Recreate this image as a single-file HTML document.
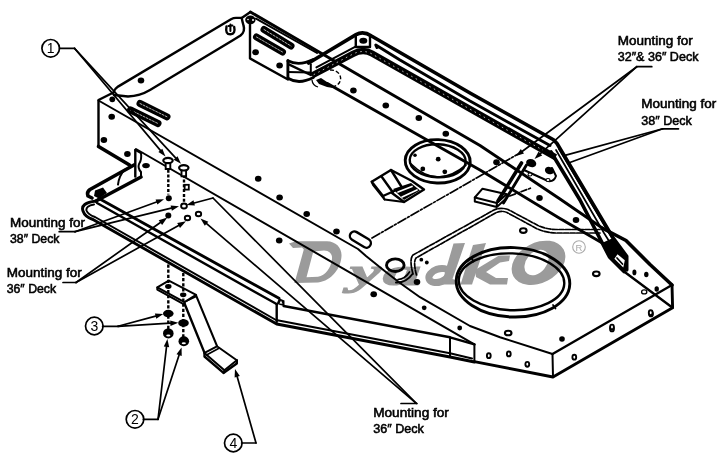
<!DOCTYPE html>
<html>
<head>
<meta charset="utf-8">
<title>Deck mounting diagram</title>
<style>
html,body{margin:0;padding:0;background:#fff;}
body{width:726px;height:468px;overflow:hidden;font-family:"Liberation Sans",sans-serif;}
svg{display:block;filter:grayscale(1) blur(0.3px);}
.k4{stroke:#000;stroke-width:3.6;fill:none;stroke-linecap:round;stroke-linejoin:round;}
.k3{stroke:#000;stroke-width:2.9;fill:none;stroke-linecap:round;stroke-linejoin:round;}
.k2{stroke:#000;stroke-width:2.4;fill:none;stroke-linecap:round;stroke-linejoin:round;}
.k15{stroke:#000;stroke-width:2.0;fill:none;stroke-linecap:round;stroke-linejoin:round;}
.k1{stroke:#000;stroke-width:1.7;fill:none;stroke-linecap:round;stroke-linejoin:round;}
.w{fill:#fff;}
.d{fill:#000;stroke:none;}
.lbl{font-family:"Liberation Sans",sans-serif;font-size:12.6px;fill:#000;stroke:#000;stroke-width:0.55;}
.num{font-family:"Liberation Sans",sans-serif;font-size:14px;fill:#000;text-anchor:middle;}
.wm{font-family:"Liberation Serif",serif;font-weight:bold;font-style:italic;fill:#9b9b9b;}
</style>
</head>
<body>
<svg width="726" height="468" viewBox="0 0 726 468">
<rect x="0" y="0" width="726" height="468" fill="#fff"/>
<g id="wm">
<path fill-rule="evenodd" fill="#9b9b9b" d="M289,243.4 L296,241.3 L327,241.3 C336,241.5 342,248 341.5,256 C341,268 332,280.5 318,282.6 L294.3,283 L295.5,279.5 L303.8,249.5 L302,247.4 L293,248 Z M313.3,251.5 L324,250.5 C330,250.8 332.5,254.5 332,259 C331,268 325.5,275.5 318,276.8 L306.5,277.3 Z"/>
<text class="wm" x="350" y="285" font-size="38" textLength="31" lengthAdjust="spacingAndGlyphs" stroke="#9b9b9b" stroke-width="1.2">y</text>
<text class="wm" x="383" y="285" font-size="38" textLength="38" lengthAdjust="spacingAndGlyphs" stroke="#9b9b9b" stroke-width="1.2">a</text>
<ellipse cx="439" cy="275.5" rx="10.5" ry="6.5" fill="none" stroke="#9b9b9b" stroke-width="7" transform="rotate(-20 439 275.5)"/>
<path d="M453.5,243.5 L465,243 L452.5,279 L457,280.5 L456,284.5 L441.5,284.5 Z" fill="#9b9b9b"/>
<path d="M473,245 L486,243 L472,284.5 L460.5,284.5 Z" fill="#9b9b9b"/>
<path d="M475,270 L499,255.5 L510,255.5 L509,261 L500,262.5 L486,272 L496,278 L508,278 L507,284.5 L490,284.5 L476,277 Z" fill="#9b9b9b"/>
<ellipse cx="538.5" cy="262.8" rx="28.5" ry="20" fill="#9b9b9b" transform="rotate(-28 538.5 262.8)"/>
<ellipse cx="536.5" cy="262.5" rx="14.5" ry="10" fill="#fff" transform="rotate(-50 536.5 262.5)"/>
<circle cx="579" cy="247" r="6.3" fill="none" stroke="#aaa" stroke-width="1.1"/>
<text x="579" y="250.6" font-size="9.5" text-anchor="middle" fill="#aaa" font-family="Liberation Sans, sans-serif">R</text>
</g>
<g id="deck">
<path class="k2" d="M113.5,92.5 Q115,88.5 118,86.6 L231,19.2 Q233.5,17.9 236,17.9 L241.7,17.9 L250.4,12" />
<path class="k2" d="M241.7,17.9 Q242.3,21 243.5,25.5 Q245.5,31.5 240.5,35.5 L232,40.8 L150,90 Q140,96 128,96.5 L114,95" />
<ellipse cx="250.4" cy="19.8" rx="5.2" ry="4.4" fill="#000"/>
<circle cx="253" cy="20" r="1" fill="#fff"/>
<circle cx="248" cy="19.5" r="0.8" fill="#fff"/>
<path class="k2" d="M226.5,26.5 Q225,34.5 230.5,34.3 Q235.7,33.7 234.2,27" />
<path class="k15" d="M230.4,24.5 L230.4,31 M228.5,26 L232.5,25.5" />
<path class="k2" d="M98.5,146.5 L98.5,100 L113.5,92.5" />
<path class="k4" d="M98.5,146.5 L129.5,165" />
<path class="k15" d="M98.5,100.5 L358,249 L366,256 L384,270.5 L400,283 L420,297.2 L470,326 L500,337.2 L552.5,354" />
<path class="k15" d="M136,149 L474.4,344.4" />
<path class="k2" d="M135.3,150 L135.3,176.5" />
<path class="k15" d="M135.3,150 L141,153.2 Q142,160 139,164 Q137.5,168 141,172 L141,176.5" />
<path class="k3" d="M250.4,12 L380,87.4 L480,145.5 L560,199 L603,228.5" />
<path class="k4" d="M603,228.5 L626,240.5 L650,264.5 L672,285" />
<path class="k3" d="M327.4,83.5 L480,170 L560,218.5 L610,247.5" />
<path class="k2" d="M250,23 L250,58.4 L288,79.5" />
<path class="k15" d="M256,18.6 L317,53" />
<path class="k2" d="M552.5,354 L672,285" />
<path class="k3" d="M672,285 L672.6,307.8 L553,377 L474.4,361.6" />
<path class="k15" d="M552.5,354 L553,377" />
<path class="k15" d="M474.4,344.4 L474.4,361.6" />
</g>
<g id="slots">
<path class="k2" d="M264.0,29.5 L291.0,46.0" style="stroke-width:7.0"/>
<path class="k2" d="M264.0,29.5 L291.0,46.0" style="stroke:#fff;stroke-width:0.7;stroke-dasharray:2 1.5"/>
<path class="k2" d="M256.5,37.0 L282.5,52.0" style="stroke-width:7.0"/>
<path class="k2" d="M256.5,37.0 L282.5,52.0" style="stroke:#fff;stroke-width:0.7;stroke-dasharray:2 1.5"/>
<path class="k2" d="M140.0,103.5 L167.0,116.8" style="stroke-width:7.0"/>
<path class="k2" d="M140.0,103.5 L167.0,116.8" style="stroke:#fff;stroke-width:0.7;stroke-dasharray:2 1.5"/>
<path class="k2" d="M130.5,110.0 L158.0,123.5" style="stroke-width:7.0"/>
<path class="k2" d="M130.5,110.0 L158.0,123.5" style="stroke:#fff;stroke-width:0.7;stroke-dasharray:2 1.5"/>
</g>
<g id="tube">
<path class="k3" d="M287.9,60.8 L287.9,78.3" />
<path class="k3" d="M287.9,60.8 Q299,66.5 313.3,59.5" />
<path class="k3" d="M287.9,78.3 Q299,85 313.3,77.5" />
<path class="k15" d="M310.8,64.2 L310.8,75" />
<path class="k15" d="M287.9,72 L310,72.5" />
<path class="k2" d="M288.3,64.2 L310.8,75" />
<polygon points="316,80 321,78 330,84 333,88 327,87 319,84" fill="#000"/>
<path d="M330,70 A9,8 0 0 1 332,87" fill="none" stroke="#000" stroke-width="1.4" stroke-dasharray="4 2"/>
<path d="M312,80 A9,8 0 0 0 318,87" fill="none" stroke="#000" stroke-width="1.3"/>
<path class="k4" d="M308.7,63 L356,34.6 Q363.3,30.5 371.5,36 L470,93 L553.5,139.8 L557,143.5 L612.5,237 L626.7,256.2 L626.7,270" />
<path class="k15" d="M316.4,67.4 L356,46.4" />
<path class="k4" d="M551,152 L580,200 L609.5,257 L624,271.5" />
<path class="k2" d="M355.8,35.8 L355.8,47 L370,47 L370,36" />
<ellipse class="d" cx="363.3" cy="40.8" rx="4" ry="3" transform="rotate(0 363.3 40.8)"/>
<path class="k3" d="M377,47.5 L375.8,45 L400,60 L470,101 L550,145.5" />
<path class="k2" d="M312,75.5 L353,53.8 Q363.3,48.5 372,53.5 L555.5,157.2" style="stroke-width:6.4;stroke-linecap:butt"/>
<path class="k2" d="M314,74.5 L353,54 Q363.3,49 372,54 L547,152.5" style="stroke:#fff;stroke-width:0.7;stroke-dasharray:0.8 4.4"/>
<path class="k1" d="M556,150 L604,233 L614,249" />
<path class="k1" d="M559,149 L609,233 L618,247" />
<polygon points="602,243 613,238 626.7,256.2 626.7,270 624,271.5 609.5,257" fill="#000"/>
<polygon points="614.4,258.7 617.5,254.3 624.8,260.3 623.3,267.5" fill="#fff"/>
<path class="k1" d="M617,258 L622.5,264" />
</g>
<g id="rings">
<ellipse class="k3" cx="513.0" cy="282.3" rx="56.8" ry="34.7" transform="rotate(2 513.0 282.3)" />
<ellipse class="k2" cx="511.5" cy="281.8" rx="52.8" ry="28.4" transform="rotate(2 511.5 281.8)" />
<path class="k1" d="M471.5,258.0 L473.5,261.5" />
<path class="k1" d="M553.0,305.0 L555.5,308.5" />
<ellipse class="k3" cx="437.7" cy="161.3" rx="32.5" ry="21.7" transform="rotate(2 437.7 161.3)" />
<ellipse class="k2" cx="437.7" cy="160.8" rx="28" ry="16.5" transform="rotate(2 437.7 160.8)" />
<path class="k1" d="M410,163 Q437,190 466,165" />
<circle class="d" cx="438.2" cy="159.2" r="2.4"/>
<circle class="d" cx="422.8" cy="168.9" r="2.4"/>
<circle class="d" cx="444.8" cy="171.8" r="2.4"/>
<circle class="d" cx="415.0" cy="155.3" r="1.8"/>
</g>
<g id="dots">
<ellipse class="d" cx="255.6" cy="52.2" rx="3.3" ry="3.0" transform="rotate(0 255.6 52.2)"/>
<ellipse class="d" cx="279.6" cy="65.5" rx="3.3" ry="3.0" transform="rotate(0 279.6 65.5)"/>
<ellipse class="d" cx="353.4" cy="90.5" rx="3.3" ry="3.0" transform="rotate(0 353.4 90.5)"/>
<ellipse class="d" cx="385.8" cy="105.6" rx="3.3" ry="3.0" transform="rotate(0 385.8 105.6)"/>
<ellipse class="d" cx="418.8" cy="118.0" rx="3.3" ry="3.0" transform="rotate(0 418.8 118.0)"/>
<ellipse class="d" cx="445.8" cy="133.7" rx="3.3" ry="3.0" transform="rotate(0 445.8 133.7)"/>
<ellipse class="d" cx="103.9" cy="140.0" rx="3.3" ry="3.0" transform="rotate(0 103.9 140.0)"/>
<ellipse class="d" cx="127.4" cy="154.0" rx="3.3" ry="3.0" transform="rotate(0 127.4 154.0)"/>
<ellipse class="d" cx="111.7" cy="116.7" rx="3.3" ry="3.0" transform="rotate(0 111.7 116.7)"/>
<ellipse class="d" cx="141.0" cy="80.5" rx="3.3" ry="3.0" transform="rotate(0 141.0 80.5)"/>
<ellipse class="d" cx="258.2" cy="178.7" rx="3.3" ry="3.0" transform="rotate(0 258.2 178.7)"/>
<ellipse class="d" cx="279.6" cy="197.4" rx="3.3" ry="3.0" transform="rotate(0 279.6 197.4)"/>
<ellipse class="d" cx="306.7" cy="213.9" rx="3.3" ry="3.0" transform="rotate(0 306.7 213.9)"/>
<ellipse class="d" cx="336.5" cy="231.5" rx="3.3" ry="3.0" transform="rotate(0 336.5 231.5)"/>
<ellipse class="d" cx="279.2" cy="240.4" rx="3.3" ry="3.0" transform="rotate(0 279.2 240.4)"/>
<ellipse class="d" cx="373.7" cy="294.3" rx="3.3" ry="3.0" transform="rotate(0 373.7 294.3)"/>
<ellipse class="d" cx="417.0" cy="282.0" rx="3.3" ry="3.0" transform="rotate(0 417.0 282.0)"/>
<ellipse class="d" cx="496.5" cy="162.3" rx="3.3" ry="3.0" transform="rotate(0 496.5 162.3)"/>
<ellipse class="d" cx="539.5" cy="197.9" rx="3.3" ry="3.0" transform="rotate(0 539.5 197.9)"/>
<ellipse class="d" cx="576.0" cy="220.0" rx="3.3" ry="3.0" transform="rotate(0 576.0 220.0)"/>
<ellipse class="d" cx="146.0" cy="165.6" rx="3.8" ry="2.7" transform="rotate(0 146.0 165.6)"/>
<circle class="d" cx="112.3" cy="99.3" r="2.9"/>
<circle class="d" cx="421.3" cy="259.7" r="1.9"/>
<circle class="d" cx="426.8" cy="262.5" r="1.9"/>
<ellipse class="d" cx="634.4" cy="272.4" rx="2" ry="2.8" transform="rotate(0 634.4 272.4)"/>
<ellipse class="d" cx="646.3" cy="274.5" rx="2.2" ry="2.8" transform="rotate(0 646.3 274.5)"/>
<ellipse class="d" cx="656.7" cy="289.0" rx="2.2" ry="2.8" transform="rotate(0 656.7 289.0)"/>
<ellipse cx="644.2" cy="291.9" rx="2.6" ry="2" fill="#fff" stroke="#000" stroke-width="1.3"/>
<circle class="d" cx="424.2" cy="307.8" r="2.4"/>
<circle class="d" cx="459.7" cy="328.0" r="2.4"/>
<circle class="d" cx="562.0" cy="339.0" r="2.8"/>
<ellipse cx="523.3" cy="230.6" rx="3.3" ry="2.3" fill="#fff" stroke="#000" stroke-width="2.1"/>
<ellipse cx="596.3" cy="273.8" rx="3.3" ry="2.3" fill="#fff" stroke="#000" stroke-width="2.1"/>
<ellipse cx="508.2" cy="333.0" rx="3.3" ry="2.3" fill="#fff" stroke="#000" stroke-width="2.1"/>
<ellipse cx="488.8" cy="355.7" rx="1.9" ry="2.4" fill="#fff" stroke="#000" stroke-width="1.9"/>
<ellipse cx="508.8" cy="353.9" rx="1.9" ry="2.4" fill="#fff" stroke="#000" stroke-width="1.9"/>
<ellipse cx="527.3" cy="364.3" rx="1.9" ry="2.4" fill="#fff" stroke="#000" stroke-width="1.9"/>
<ellipse cx="574.3" cy="357.2" rx="1.9" ry="2.4" fill="#fff" stroke="#000" stroke-width="1.9"/>
<ellipse cx="612.0" cy="329.0" rx="1.9" ry="2.4" fill="#fff" stroke="#000" stroke-width="1.9"/>
<ellipse cx="651.0" cy="314.0" rx="1.9" ry="2.4" fill="#fff" stroke="#000" stroke-width="1.9"/>
<ellipse cx="612.0" cy="327.0" rx="1.9" ry="2.4" fill="#fff" stroke="#000" stroke-width="1.9"/>
<ellipse cx="650.7" cy="312.7" rx="1.9" ry="2.4" fill="#fff" stroke="#000" stroke-width="1.9"/>
</g>
<g id="misc">
<rect x="349" y="235" width="23" height="9" rx="4.5" ry="4.5" fill="none" stroke="#000" stroke-width="2.4" transform="rotate(31 360.3 239.3)"/>
<ellipse class="k3" cx="395.3" cy="265.2" rx="8.8" ry="6.3" transform="rotate(0 395.3 265.2)" />
<path class="k15" d="M474.8,197.5 L482.5,188.7 L506.7,194.2 L496.8,203 Z" />
<path class="k15" d="M474.8,197.5 L474.8,201.5 L496.8,207 L496.8,203 M496.8,207 L506.7,198 L506.7,194.2" />
<path class="k1" d="M372,238 L519,153.5" stroke-dasharray="9 2 2 2"/>
<path class="k1" d="M509.8,196 L531,188" stroke-dasharray="6 2 2 2"/>
<path class="k1" d="M413,274 Q409,259 413,255 L494,210 Q500,207 508,209.5 L538,225.5 Q547,229.5 556,229.5 L600,229.5" stroke-dasharray="5 1.5"/>
<path class="k1" d="M416.5,275 Q413,262 416,258 L495.5,213 Q501,210 507,212.5 L537,228.8 Q547,233 556,233 L600,233" stroke-dasharray="5 1.5"/>
<path class="k15" d="M396,282.5 Q406,283 412.5,274" />
<path class="k1" d="M398,279.5 Q405,279 409.5,272" />
<path class="k4" d="M521.5,163 L498,201" />
<path class="k3" d="M526.5,165 L503.5,203" />
<ellipse class="d" cx="531.2" cy="163.1" rx="5.2" ry="4" transform="rotate(20 531.2 163.1)"/>
<ellipse class="d" cx="549.4" cy="170.6" rx="4.6" ry="3.6" transform="rotate(20 549.4 170.6)"/>
<path class="k15" d="M524,170 L548,181 Q554,182 556,176 L552,168" />
<ellipse cx="530.0" cy="174.5" rx="2" ry="1.5" fill="#fff" stroke="#000" stroke-width="1.1"/>
<ellipse cx="548.0" cy="180.0" rx="2" ry="1.5" fill="#fff" stroke="#000" stroke-width="1.1"/>
<path class="k2" d="M371.7,181.7 L391,170 L402,187.5 L383,196 Z" />
<path class="k15" d="M371.7,181.7 L373,185 L384.5,199.5 L383,196" />
<path class="k2" d="M381.7,176.7 L392.8,192.2" />
<path class="k2" d="M391,170 L412,181 L424,189.5 L404,202 L392,193" />
<polygon points="393,189 411,183 420,190.5 404,200" fill="#000"/>
<path class="k1" d="M398,192 L412,186.5 M402,197 L417,190" style="stroke:#fff"/>
<path class="k15" d="M384.5,199.5 L404,202" />
</g>
<g id="rightend">
<path class="k2" d="M624,271.5 L672.6,307.8" />
</g>
<g id="rods">
<path class="k4" d="M134,165 L90,189.5 Q86.5,192 88,196 L92,198" />
<path class="k4" d="M141,177 L96,201" />
<polygon points="95,190.5 103,187.5 107,193 99,198.5 94,196" fill="#000"/>
<path class="k15" d="M124.5,169.7 Q119,176 118,184.6" />
<path class="k3" d="M99,198.5 L279,298.3" />
<path class="k2" d="M97,203 L277,304.3" />
<path class="k3" d="M96,201 Q80,203 83,211 Q85,217 93,219.5 L276.7,324 L450,357 L474.4,362" />
<path class="k15" d="M94,204.5 Q85.5,206 86.5,210.5 Q88,214.5 95,217 L276,320 L450,353.3 L472,358.5" />
<path class="k2" d="M276.7,304.3 L276.7,322" />
<polygon points="276.7,303.5 279,298.3 284.5,300.5 284.5,306 280,305" fill="#000"/>
<polygon points="279.5,303.5 281,300.5 282.5,303.8" fill="#fff"/>
<path class="k2" d="M283.6,306 L450,337.3 L474.4,344.4" />
<path class="k15" d="M450,337.3 L450,356" />
</g>
<g id="bracket">
<path class="k2" d="M168.3,169.7 L168.3,194.5" stroke-dasharray="3 1.8" style="stroke-linecap:butt"/>
<path class="k2" d="M184,174.7 L184,202.8" stroke-dasharray="3 1.8" style="stroke-linecap:butt"/>
<path class="k2" d="M168.3,264.5 L168.3,330" stroke-dasharray="3.2 1.9" style="stroke-linecap:butt"/>
<path class="k2" d="M183.3,273 L183.3,337" stroke-dasharray="3.2 1.9" style="stroke-linecap:butt"/>
<path d="M165.7,160.5 L165.7,169.0 L170.3,169.0 L170.3,160.5" fill="#fff" stroke="#000" stroke-width="1.9"/>
<ellipse cx="168" cy="160.5" rx="4.7" ry="2.7" fill="#fff" stroke="#000" stroke-width="2.2"/>
<path d="M181.5,167.8 L181.5,176.3 L186.10000000000002,176.3 L186.10000000000002,167.8" fill="#fff" stroke="#000" stroke-width="1.9"/>
<ellipse cx="183.8" cy="167.8" rx="4.7" ry="2.7" fill="#fff" stroke="#000" stroke-width="2.2"/>
<circle class="d" cx="168.8" cy="198.3" r="3.0"/>
<ellipse cx="184.0" cy="206.0" rx="2.9" ry="2.5" fill="#fff" stroke="#000" stroke-width="1.9"/>
<circle class="d" cx="168.3" cy="215.5" r="3.0"/>
<ellipse cx="187.5" cy="218.0" rx="2.7" ry="2.3" fill="#fff" stroke="#000" stroke-width="1.9"/>
<ellipse cx="198.5" cy="214.0" rx="2.7" ry="2.3" fill="#fff" stroke="#000" stroke-width="1.9"/>
<rect x="184.6" y="184.8" width="4.2" height="4.8" fill="none" stroke="#000" stroke-width="1.8"/>
<path class="k15" d="M157.3,287.4 L168.8,280.7 L196.1,294.8 L184.5,302.2 Z" fill="#fff"/>
<path class="k15" d="M157.3,287.4 L157.3,289.6 L184.5,304.6 L184.5,302.2" />
<ellipse class="d" cx="168.3" cy="286.5" rx="3.2" ry="2.4" transform="rotate(0 168.3 286.5)"/>
<ellipse class="d" cx="183.2" cy="294.8" rx="3.2" ry="2.4" transform="rotate(0 183.2 294.8)"/>
<path class="k2" d="M184.5,303.5 L204.5,352.9" />
<path class="k15" d="M196.1,295.5 L217,346" />
<path class="k1" d="M187,300.8 L196.1,296.4" />
<path class="k15" d="M204.5,352.9 L217,346.3 L236.8,360.3 L224.4,370.2 Z" />
<path class="k2" d="M204.5,352.9 L204.5,356.5 L223.5,372.9 L236.8,363.6 L236.8,360.3" />
<path class="k1" d="M206.5,355 L218.5,348.6" />
<path class="k1" d="M224.4,370.2 L223.5,372.9" />
<ellipse class="d" cx="168.3" cy="313.6" rx="5.3" ry="3.8" transform="rotate(0 168.3 313.6)"/>
<ellipse class="d" cx="183.5" cy="323.0" rx="5.3" ry="3.8" transform="rotate(0 183.5 323.0)"/>
<ellipse cx="168.3" cy="333.4" rx="5.3" ry="5" fill="#000"/>
<ellipse cx="168.3" cy="335.4" rx="2.1" ry="1" fill="#fff"/>
<ellipse cx="183.8" cy="341.2" rx="5.3" ry="5" fill="#000"/>
<ellipse cx="183.8" cy="343.2" rx="2.1" ry="1" fill="#fff"/>
</g>
<g id="leaders">
<path class="k1" d="M59.5,48.3 L74.5,48.3" />
<path class="k1" d="M74.5,48.3 L160.4,150.4" />
<polygon class="d" points="165.5,156.5 158.4,152.1 162.3,148.7"/>
<path class="k1" d="M74.5,48.3 L175.6,157.9" />
<polygon class="d" points="181.0,163.8 173.7,159.7 177.5,156.2"/>
<path class="k1" d="M102.6,326.3 L119.0,326.3" />
<path class="k1" d="M118.0,326.3 L155.6,316.1" />
<polygon class="d" points="163.3,314.0 156.3,318.7 154.9,313.5"/>
<path class="k1" d="M118.0,326.3 L170.3,323.2" />
<polygon class="d" points="178.3,322.7 170.5,325.9 170.2,320.5"/>
<path class="k1" d="M143.3,419.3 L158.0,419.3" />
<path class="k1" d="M158.0,419.3 L166.5,346.9" />
<polygon class="d" points="167.4,339.0 169.2,347.3 163.8,346.6"/>
<path class="k1" d="M158.0,419.3 L179.1,355.1" />
<polygon class="d" points="181.6,347.5 181.7,355.9 176.5,354.3"/>
<path class="k1" d="M241.6,443.0 L256.0,443.0" />
<path class="k1" d="M256.0,443.0 L237.2,376.7" />
<polygon class="d" points="235.0,369.0 239.8,376.0 234.6,377.4"/>
<path class="k1" d="M636.8,66.7 L651.8,66.7" />
<path class="k1" d="M636.8,66.7 L522.4,151.2" />
<polygon class="d" points="516.0,156.0 520.8,149.1 524.0,153.4"/>
<path class="k1" d="M636.8,66.7 L540.4,153.6" />
<polygon class="d" points="534.5,159.0 538.6,151.6 542.2,155.6"/>
<path class="k1" d="M662.7,128.8 L678.5,128.8" />
<path class="k1" d="M662.7,128.8 L565.0,155.4" />
<path class="k1" d="M662.7,128.8 L570.5,162.2" />
<path class="k1" d="M59.2,231.7 L75.0,231.7" />
<path class="k1" d="M75.0,231.7 L156.5,202.0" />
<polygon class="d" points="164.0,199.3 157.4,204.6 155.6,199.5"/>
<path class="k1" d="M75.0,231.7 L171.2,208.2" />
<polygon class="d" points="179.0,206.3 171.9,210.8 170.6,205.6"/>
<path class="k1" d="M63.0,282.5 L76.0,282.5" />
<path class="k1" d="M76.0,282.5 L160.4,222.5" />
<polygon class="d" points="167.3,217.6 162.1,224.9 158.7,220.2"/>
<path class="k1" d="M76.0,282.5 L178.6,225.4" />
<polygon class="d" points="186.0,221.3 180.0,228.0 177.2,222.9"/>
<path class="k1" d="M401.0,403.5 L417.0,403.5" />
<path class="k1" d="M416.3,403.3 L213.0,198.0" />
<path class="k1" d="M213.0,198.0 L194.2,203.0" />
<polygon class="d" points="186.5,205.0 193.5,200.3 194.9,205.6"/>
<path class="k1" d="M416.3,403.3 L206.6,223.7" />
<polygon class="d" points="200.5,218.5 208.3,221.7 204.8,225.8"/>
</g>
<g id="labels">
<text class="lbl" x="617.7" y="44.7" textLength="75" lengthAdjust="spacingAndGlyphs">Mounting for</text>
<text class="lbl" x="617.7" y="60.8" textLength="80.8" lengthAdjust="spacingAndGlyphs">32&#8243;&amp; 36&#8243; Deck</text>
<text class="lbl" x="641.3" y="107.8" textLength="75" lengthAdjust="spacingAndGlyphs">Mounting for</text>
<text class="lbl" x="641.3" y="125" textLength="50.5" lengthAdjust="spacingAndGlyphs">38&#8243; Deck</text>
<text class="lbl" x="10" y="226.7" textLength="75" lengthAdjust="spacingAndGlyphs">Mounting for</text>
<text class="lbl" x="10" y="242.5" textLength="49.5" lengthAdjust="spacingAndGlyphs">38&#8243; Deck</text>
<text class="lbl" x="6.7" y="277" textLength="75" lengthAdjust="spacingAndGlyphs">Mounting for</text>
<text class="lbl" x="6.7" y="293" textLength="49.5" lengthAdjust="spacingAndGlyphs">36&#8243; Deck</text>
<text class="lbl" x="373.2" y="416.5" textLength="75.7" lengthAdjust="spacingAndGlyphs">Mounting for</text>
<text class="lbl" x="373.2" y="432.5" textLength="50.7" lengthAdjust="spacingAndGlyphs">36&#8243; Deck</text>
</g>
<g id="callouts">
<circle class="k1" cx="50.7" cy="48.3" r="8.8" style="stroke-width:1.7"/><text class="num" x="50.7" y="53.4">1</text>
<circle class="k1" cx="135" cy="419.3" r="8.8" style="stroke-width:1.7"/><text class="num" x="135" y="424.40000000000003">2</text>
<circle class="k1" cx="94.3" cy="326" r="8.8" style="stroke-width:1.7"/><text class="num" x="94.3" y="331.1">3</text>
<circle class="k1" cx="233.3" cy="443" r="8.8" style="stroke-width:1.7"/><text class="num" x="233.3" y="448.1">4</text>
</g>
</svg>
</body>
</html>
